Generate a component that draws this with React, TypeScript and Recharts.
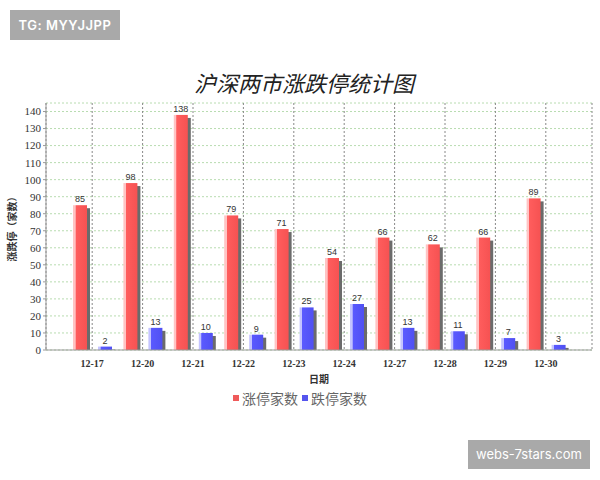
import React from "react";
import {
  BarChart,
  Bar,
  XAxis,
  YAxis,
  CartesianGrid,
  Legend,
  LabelList,
} from "recharts";

const dates = ["12-17", "12-20", "12-21", "12-22", "12-23", "12-24", "12-27", "12-28", "12-29", "12-30"];
const limitUp = [85, 98, 138, 79, 71, 54, 66, 62, 66, 89];
const limitDown = [2, 13, 10, 9, 25, 27, 13, 11, 7, 3];
const yTicks = [0, 10, 20, 30, 40, 50, 60, 70, 80, 90, 100, 110, 120, 130, 140];

const data = dates.map((d, i) => ({ date: d, up: limitUp[i], down: limitDown[i] }));

const CJK = '"Noto Sans CJK SC", sans-serif';

function ShadowBar(props: any) {
  const { x, y, width, height, fill } = props;
  if (!height || height <= 0) return null;
  const sh = Math.max(height - 3, 0);
  return (
    <g>
      <rect x={x + 3} y={y + 3} width={width} height={sh} fill="#6b6b6b" />
      <rect x={x} y={y} width={width} height={height} fill={fill} />
    </g>
  );
}

function LegendContent() {
  const items = [
    { name: "涨停家数", color: "#ef5a5a" },
    { name: "跌停家数", color: "#5555ee" },
  ];
  return (
    <div style={{ display: "flex", justifyContent: "center", fontFamily: CJK, fontSize: 14, lineHeight: "20px", color: "#666", paddingLeft: 4 }}>
      {items.map((it) => (
        <span key={it.name} style={{ display: "flex", alignItems: "center", marginRight: 4 }}>
          <span style={{ width: 6, height: 6, background: it.color, display: "inline-block", marginRight: 3 }} />
          {it.name}
        </span>
      ))}
    </div>
  );
}

export default function App() {
  return (
    <div style={{ position: "absolute", left: 0, top: 0, width: 600, height: 480, background: "#fff" }}>
      <div
        style={{
          position: "absolute",
          left: 10,
          top: 10,
          width: 110,
          height: 30,
          background: "#a9a9a9",
          color: "#fff",
          fontFamily: "Inter, sans-serif",
          fontWeight: 600,
          fontSize: 13,
          lineHeight: "30px",
          textAlign: "center",
          letterSpacing: 0.5,
        }}
      >
        TG: MYYJJPP
      </div>
      <div
        style={{
          position: "absolute",
          left: 0,
          top: 68,
          width: 600,
          textAlign: "center",
          fontFamily: CJK,
          fontStyle: "italic",
          fontSize: 22,
          color: "#222",
          lineHeight: "28px",
          paddingLeft: 4,
        }}
      >
        沪深两市涨跌停统计图
      </div>
      <BarChart
        width={600}
        height={480}
        data={data}
        margin={{ top: 103, right: 8, bottom: 80, left: 0 }}
        barSize={14}
        barGap={11}
        style={{ position: "absolute", left: 0, top: 0 }}
      >
        <defs>
          <linearGradient id="gUp" x1="0" y1="0" x2="1" y2="0">
            <stop offset="0" stopColor="#ffc4c4" />
            <stop offset="0.17" stopColor="#ffc4c4" />
            <stop offset="0.2" stopColor="#ff5d5d" />
            <stop offset="1" stopColor="#f65252" />
          </linearGradient>
          <linearGradient id="gDown" x1="0" y1="0" x2="1" y2="0">
            <stop offset="0" stopColor="#c4c4ff" />
            <stop offset="0.17" stopColor="#c4c4ff" />
            <stop offset="0.2" stopColor="#5a5aff" />
            <stop offset="1" stopColor="#5050f2" />
          </linearGradient>
        </defs>
        <CartesianGrid vertical={false} stroke="#b8dcb0" strokeDasharray="2 2" />
        <CartesianGrid horizontal={false} stroke="#888" strokeDasharray="2 2" />
        <XAxis
          dataKey="date"
          padding={{ left: 21, right: 21 }}
          height={30}
          tickLine={false}
          axisLine={{ stroke: "#999" }}
          tick={{ fontFamily: '"Liberation Serif", serif', fontSize: 10, fontWeight: 700, fill: "#333" }}
          tickMargin={4}
          label={{
            value: "日期",
            position: "insideBottom",
            offset: -3,
            style: { fontFamily: CJK, fontSize: 10, fontWeight: 700, fill: "#333" },
          }}
        />
        <XAxis
          xAxisId="top"
          dataKey="date"
          orientation="top"
          height={0}
          tick={false}
          tickLine={false}
          axisLine={{ stroke: "#aaa" }}
        />
        <YAxis
          domain={[0, 145]}
          ticks={yTicks}
          interval={0}
          width={46}
          tickSize={3}
          tickLine={{ stroke: "#999" }}
          axisLine={{ stroke: "#999" }}
          tick={{ fontFamily: '"Liberation Serif", serif', fontSize: 11, fill: "#333" }}
          label={{
            value: "涨跌停（家数）",
            angle: -90,
            position: "insideLeft",
            offset: 12,
            style: { fontFamily: CJK, fontSize: 10, fontWeight: 700, fill: "#333", textAnchor: "middle" },
          }}
        />
        <YAxis yAxisId="right" orientation="right" width={0} tick={false} tickLine={false} axisLine={{ stroke: "#aaa" }} />
        <Legend
          content={<LegendContent />}
          wrapperStyle={{ position: "absolute", top: 388, left: 0, width: 600 }}
        />
        <Bar dataKey="up" name="涨停家数" fill="url(#gUp)" shape={<ShadowBar />} isAnimationActive={false}>
          <LabelList dataKey="up" position="top" offset={3} style={{ fontFamily: "Arial, sans-serif", fontSize: 9, fill: "#333" }} />
        </Bar>
        <Bar dataKey="down" name="跌停家数" fill="url(#gDown)" shape={<ShadowBar />} isAnimationActive={false}>
          <LabelList dataKey="down" position="top" offset={3} style={{ fontFamily: "Arial, sans-serif", fontSize: 9, fill: "#333" }} />
        </Bar>
      </BarChart>
      <div
        style={{
          position: "absolute",
          left: 468,
          top: 440,
          width: 122,
          height: 29,
          background: "#a9a9a9",
          color: "#fff",
          fontFamily: "Inter, sans-serif",
          fontSize: 13,
          lineHeight: "29px",
          textAlign: "center",
        }}
      >
        webs-7stars.com
      </div>
    </div>
  );
}
